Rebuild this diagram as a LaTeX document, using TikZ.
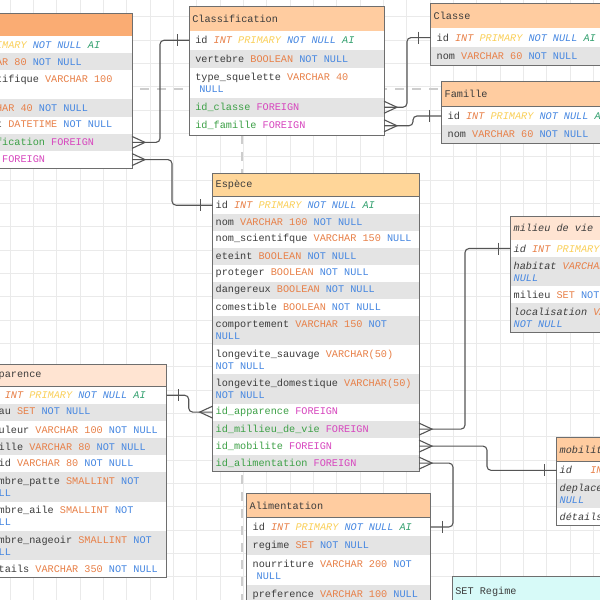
\documentclass[tikz,border=0pt]{standalone}
\usepackage{fontspec}
\setmonofont{Liberation Mono}
\usepackage{tikz}
\usetikzlibrary{positioning}

\definecolor{gridC}{RGB}{234,234,234}
\definecolor{guideC}{RGB}{205,205,205}
\definecolor{bordC}{RGB}{110,110,110}
\definecolor{linkC}{RGB}{85,85,85}
\definecolor{rowC}{RGB}{228,228,228}
\definecolor{nameC}{RGB}{60,60,60}
\definecolor{typeC}{RGB}{232,128,72}
\definecolor{priC}{RGB}{250,208,90}
\definecolor{nullC}{RGB}{70,135,225}
\definecolor{aiC}{RGB}{50,160,110}
\definecolor{fkC}{RGB}{60,160,70}
\definecolor{forC}{RGB}{215,70,190}
\definecolor{hdOrange}{RGB}{250,172,115}
\definecolor{hdPeach}{RGB}{255,204,160}
\definecolor{hdSand}{RGB}{255,214,153}
\definecolor{hdLight}{RGB}{255,228,210}
\definecolor{hdCyan}{RGB}{215,250,248}

\newcommand{\sqltype}[1]{\textcolor{typeC}{#1}}
\newcommand{\sqlnull}[1]{\textcolor{nullC}{#1}}
\newcommand{\sqlpk}{\textcolor{typeC}{\itshape INT} \textcolor{priC}{\itshape PRIMARY} \textcolor{nullC}{\itshape NOT NULL} \textcolor{aiC}{\itshape AI}}
\newcommand{\sqlfk}[1]{\textcolor{fkC}{#1} \textcolor{forC}{FOREIGN}}
\newcommand{\fixspace}{\spaceskip=6.12pt\relax\xspaceskip=6.12pt\relax}
% crow's foot and bar ends
\newcommand{\manyend}[2]{\draw[link] ([yshift=6pt]#1) -- ([xshift=#2]#1) -- ([yshift=-6pt]#1);}
\newcommand{\oneend}[2]{\draw[link] ([xshift=#2,yshift=6pt]#1) -- ([xshift=#2,yshift=-6pt]#1);}

\tikzset{
  mono/.style={font=\fontsize{10.2}{12}\selectfont\ttfamily, execute at begin node=\fixspace},
  hd/.style={mono, anchor=north west, align=left, inner xsep=3pt, inner ysep=0pt, outer sep=0pt, draw=bordC, line width=0.8pt, text=nameC},
  rowfmt/.style={},
  rw/.style={mono, align=left, inner ysep=0pt, outer sep=0pt, fill=white, text=nameC, rowfmt},
  rg/.style={rw, fill=rowC},
  dbl/.style={},
  tbl/.style n args={5}{hd/.append style={text width=#1}, rowfmt/.style={text width=#2, inner xsep=#3, minimum height=#4}, dbl/.style={minimum height=#5}},
  tblline/.style={draw=bordC, line width=0.8pt},
  link/.style={draw=linkC, line width=1.1pt},
  conn/.style={link, rounded corners=4pt},
  guide/.style={draw=guideC, line width=1.5pt, dash pattern=on 9pt off 8pt}
}

\begin{document}
\begin{tikzpicture}[x=1pt, y=-1pt]
\useasboundingbox (0,0) rectangle (600,600);
\clip (0,0) rectangle (600,600);
\fill[white] (0,0) rectangle (600,600);
\begin{scope}[shift={(10,16.7)}]
  \draw[gridC, line width=0.6pt, step=23.33pt] (-40,-40) grid (620,620);
\end{scope}
\draw[guide] (140,89) -- (445,89);
\draw[guide] (242,135) -- (242,600);

% Animal
\begin{scope}[tbl={191pt}{185pt}{6pt}{17.2pt}{29pt}]
\node[hd, fill=hdOrange, minimum height=22.7pt] (anm-hd) at (-65,13.3) {};
\node[rw, below=0pt of anm-hd] (anm-id) {id \sqlpk};
\node[rg, below=0pt of anm-id] (anm-nom) {nom \sqltype{VARCHAR 80} \sqlnull{NOT NULL}};
\node[rw, dbl, below=0pt of anm-nom] (anm-sci) {nom\_scientifique \sqltype{VARCHAR 100}\\\sqlnull{NULL}};
\node[rg, below=0pt of anm-sci] (anm-sexe) {sexe \sqltype{VARCHAR 40} \sqlnull{NOT NULL}};
\node[rw, below=0pt of anm-sexe] (anm-date) {date\_ajout \sqltype{DATETIME} \sqlnull{NOT NULL}};
\node[rg, below=0pt of anm-date] (anm-cls) {\sqlfk{id\_classification}};
\node[rw, below=0pt of anm-cls] (anm-esp) {\sqlfk{id\_espece}};
\draw[tblline] (anm-hd.north west) rectangle (anm-esp.south east);
\end{scope}

% Classification
\begin{scope}[tbl={188.7pt}{182.7pt}{6pt}{18.5pt}{30pt}]
\node[hd, fill=hdPeach, minimum height=25pt] (cls-hd) at (189.3,6) {Classification};
\node[rw, below=0pt of cls-hd] (cls-id) {id \sqlpk};
\node[rg, below=0pt of cls-id] (cls-vert) {vertebre \sqltype{BOOLEAN} \sqlnull{NOT NULL}};
\node[rw, dbl, below=0pt of cls-vert] (cls-sq) {type\_squelette \sqltype{VARCHAR 40}\\\hspace*{4pt}\sqlnull{NULL}};
\node[rg, below=0pt of cls-sq] (cls-classe) {\sqlfk{id\_classe}};
\node[rw, below=0pt of cls-classe] (cls-famille) {\sqlfk{id\_famille}};
\draw[tblline] (cls-hd.north west) rectangle (cls-famille.south east);
\end{scope}

% Classe
\begin{scope}[tbl={189pt}{183pt}{6pt}{18.6pt}{30pt}]
\node[hd, fill=hdPeach, minimum height=25pt] (cla-hd) at (430.7,3.3) {Classe};
\node[rw, below=0pt of cla-hd] (cla-id) {id \sqlpk};
\node[rg, below=0pt of cla-id] (cla-nom) {nom \sqltype{VARCHAR 60} \sqlnull{NOT NULL}};
\draw[tblline] (cla-hd.north west) rectangle (cla-nom.south east);
\end{scope}

% Famille
\begin{scope}[tbl={189pt}{183pt}{6pt}{18.5pt}{30pt}]
\node[hd, fill=hdPeach, minimum height=25pt] (fam-hd) at (441.7,81.7) {Famille};
\node[rw, below=0pt of fam-hd] (fam-id) {id \sqlpk};
\node[rg, below=0pt of fam-id] (fam-nom) {nom \sqltype{VARCHAR 60} \sqlnull{NOT NULL}};
\draw[tblline] (fam-hd.north west) rectangle (fam-nom.south east);
\end{scope}

% Espece
\begin{scope}[tbl={200.3pt}{200.3pt}{3pt}{17pt}{29.3pt}]
\node[hd, fill=hdSand, minimum height=23.4pt] (esp-hd) at (212.7,173.3) {Espèce};
\node[rw, below=0pt of esp-hd] (esp-id) {id \sqlpk};
\node[rg, below=0pt of esp-id] (esp-nom) {nom \sqltype{VARCHAR 100} \sqlnull{NOT NULL}};
\node[rw, below=0pt of esp-nom] (esp-sci) {nom\_scientifque \sqltype{VARCHAR 150} \sqlnull{NULL}};
\node[rg, below=0pt of esp-sci] (esp-eteint) {eteint \sqltype{BOOLEAN} \sqlnull{NOT NULL}};
\node[rw, below=0pt of esp-eteint] (esp-prot) {proteger \sqltype{BOOLEAN} \sqlnull{NOT NULL}};
\node[rg, below=0pt of esp-prot] (esp-dang) {dangereux \sqltype{BOOLEAN} \sqlnull{NOT NULL}};
\node[rw, below=0pt of esp-dang] (esp-com) {comestible \sqltype{BOOLEAN} \sqlnull{NOT NULL}};
\node[rg, dbl, below=0pt of esp-com] (esp-comp) {comportement \sqltype{VARCHAR 150} \sqlnull{NOT}\\\sqlnull{NULL}};
\node[rw, dbl, below=0pt of esp-comp] (esp-sauv) {longevite\_sauvage \sqltype{VARCHAR(50)}\\\sqlnull{NOT NULL}};
\node[rg, dbl, below=0pt of esp-sauv] (esp-dom) {longevite\_domestique \sqltype{VARCHAR(50)}\\\sqlnull{NOT NULL}};
\node[rw, below=0pt of esp-dom] (esp-app) {\sqlfk{id\_apparence}};
\node[rg, below=0pt of esp-app] (esp-mil) {\sqlfk{id\_millieu\_de\_vie}};
\node[rw, below=0pt of esp-mil] (esp-mob) {\sqlfk{id\_mobilite}};
\node[rg, below=0pt of esp-mob] (esp-ali) {\sqlfk{id\_alimentation}};
\draw[tblline] (esp-hd.north west) rectangle (esp-ali.south east);
\end{scope}

% Apparence
\begin{scope}[tbl={177.2pt}{177.2pt}{3pt}{17.1pt}{29.3pt}]
\node[hd, fill=hdLight, minimum height=22.4pt] (app-hd) at (-16.5,364.3) {Apparence};
\node[rw, below=0pt of app-hd] (app-id) {id \sqlpk};
\node[rg, below=0pt of app-id] (app-peau) {peau \sqltype{SET} \sqlnull{NOT NULL}};
\node[rw, below=0pt of app-peau] (app-coul) {couleur \sqltype{VARCHAR 100} \sqlnull{NOT NULL}};
\node[rg, below=0pt of app-coul] (app-taille) {taille \sqltype{VARCHAR 80} \sqlnull{NOT NULL}};
\node[rw, below=0pt of app-taille] (app-poid) {poid \sqltype{VARCHAR 80} \sqlnull{NOT NULL}};
\node[rg, dbl, below=0pt of app-poid] (app-patte) {nombre\_patte \sqltype{SMALLINT} \sqlnull{NOT}\\\sqlnull{NULL}};
\node[rw, dbl, below=0pt of app-patte] (app-aile) {nombre\_aile \sqltype{SMALLINT} \sqlnull{NOT}\\\sqlnull{NULL}};
\node[rg, dbl, below=0pt of app-aile] (app-nag) {nombre\_nageoir \sqltype{SMALLINT} \sqlnull{NOT}\\\sqlnull{NULL}};
\node[rw, below=0pt of app-nag] (app-det) {details \sqltype{VARCHAR 350} \sqlnull{NOT NULL}};
\draw[tblline] (app-hd.north west) rectangle (app-det.south east);
\end{scope}

% milieu de vie
\begin{scope}[tbl={166pt}{166pt}{3pt}{17pt}{29.3pt}]
\node[hd, fill=hdLight, minimum height=23.3pt] (mil-hd) at (510.7,216.7) {\itshape milieu de vie};
\node[rw, below=0pt of mil-hd] (mil-id) {\itshape id \sqlpk};
\node[rg, dbl, below=0pt of mil-id] (mil-hab) {\itshape habitat \sqltype{VARCHAR 100} \sqlnull{NOT}\\\sqlnull{NULL}};
\node[rw, below=0pt of mil-hab] (mil-mil) {milieu \sqltype{SET} \sqlnull{NOT NULL}};
\node[rg, dbl, below=0pt of mil-mil] (mil-loc) {\itshape localisation \sqltype{VARCHAR 100}\\\sqlnull{NOT NULL}};
\draw[tblline] (mil-hd.north west) rectangle (mil-loc.south east);
\end{scope}

% mobilite
\begin{scope}[tbl={174pt}{174pt}{3pt}{17.3pt}{29.3pt}]
\node[hd, fill=hdPeach, minimum height=24.4pt] (mob-hd) at (556.7,437.3) {\itshape mobilite};
\node[rw, below=0pt of mob-hd] (mob-id) {\itshape id\hspace{18.4pt}\sqlpk};
\node[rg, dbl, below=0pt of mob-id] (mob-dep) {\itshape deplacement \sqltype{VARCHAR 100} \sqlnull{NOT}\\\sqlnull{NULL}};
\node[rw, below=0pt of mob-dep] (mob-det) {\itshape détails \sqltype{VARCHAR 250} \sqlnull{NULL}};
\draw[tblline] (mob-hd.north west) rectangle (mob-det.south east);
\end{scope}

% Alimentation
\begin{scope}[tbl={178pt}{172pt}{6pt}{18.5pt}{30.5pt}]
\node[hd, fill=hdPeach, minimum height=24.4pt] (ali-hd) at (246.7,493.3) {Alimentation};
\node[rw, below=0pt of ali-hd] (ali-id) {id \sqlpk};
\node[rg, below=0pt of ali-id] (ali-reg) {regime \sqltype{SET} \sqlnull{NOT NULL}};
\node[rw, dbl, below=0pt of ali-reg] (ali-nour) {nourriture \sqltype{VARCHAR 200} \sqlnull{NOT}\\\hspace*{4pt}\sqlnull{NULL}};
\node[rg, below=0pt of ali-nour] (ali-pref) {preference \sqltype{VARCHAR 100} \sqlnull{NULL}};
\draw[tblline] (ali-hd.north west) rectangle (ali-pref.south east);
\end{scope}

% SET Regime
\node[hd, fill=hdCyan, minimum height=30pt, text width=184pt] (reg-hd) at (452.3,576.7) {SET Regime};

% relations
\draw[conn] (anm-cls.east) -- ++(28,0) |- (cls-id.west);
\manyend{anm-cls.east}{13pt}
\oneend{cls-id.west}{-12pt}
\draw[conn] (anm-esp.east) -- ++(40,0) |- (esp-id.west);
\manyend{anm-esp.east}{13pt}
\oneend{esp-id.west}{-12pt}
\draw[conn] (cls-classe.east) -- ++(23,0) |- (cla-id.west);
\manyend{cls-classe.east}{13pt}
\oneend{cla-id.west}{-12pt}
\draw[conn] (cls-famille.east) -- ++(29,0) |- (fam-id.west);
\manyend{cls-famille.east}{13pt}
\oneend{fam-id.west}{-12pt}
\draw[conn] (app-id.east) -- ++(22,0) |- (esp-app.west);
\oneend{app-id.east}{12pt}
\manyend{esp-app.west}{-13pt}
\draw[conn] (esp-mil.east) -- ++(46,0) |- (mil-id.west);
\manyend{esp-mil.east}{13pt}
\oneend{mil-id.west}{-12pt}
\draw[conn] (esp-mob.east) -- ++(68,0) |- (mob-id.west);
\manyend{esp-mob.east}{13pt}
\oneend{mob-id.west}{-12pt}
\draw[conn] (esp-ali.east) -- ++(34,0) |- (ali-id.east);
\manyend{esp-ali.east}{13pt}
\oneend{ali-id.east}{12pt}
\end{tikzpicture}
\end{document}
